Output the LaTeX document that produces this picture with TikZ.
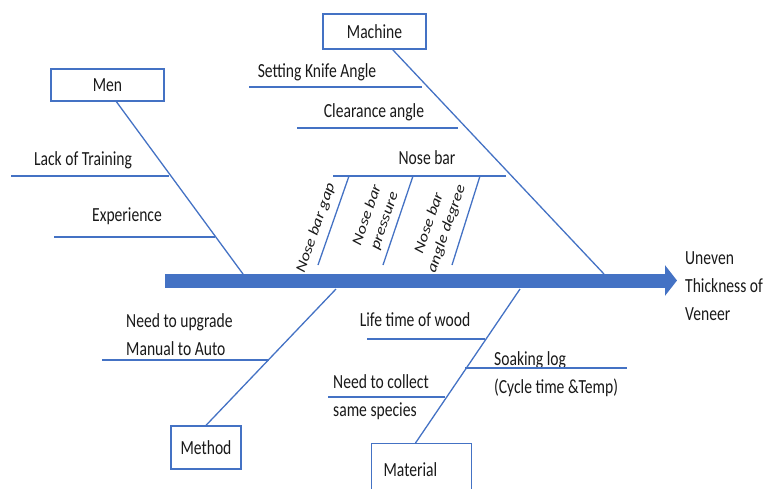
\documentclass[tikz,border=0pt]{standalone}
\usepackage{fontspec}
\setmainfont{Carlito}[FakeStretch=0.78]
\newfontfamily\rotfont{Carlito}[FakeStretch=1.2]
\usetikzlibrary{arrows.meta}
\definecolor{boneblue}{HTML}{4472C4}

\begin{document}
\begin{tikzpicture}[x=1pt, y=-1pt,
  bone/.style={draw=boneblue, line width=1.3pt},
  catbox/.style={draw=boneblue, line width=1.3pt, text=black!90, font=\fontsize{20}{24}\selectfont, inner sep=0pt},
  cause/.style={text=black!90, font=\fontsize{20}{28}\selectfont, inner sep=0pt, align=left},
  sub/.style={text=black!90, font=\rotfont\itshape\fontsize{14.5}{18.5}\selectfont, inner sep=0pt, align=center, rotate=71},
  spine/.style={draw=boneblue, line width=14pt, -{Triangle[length=12pt, width=30pt]}}]
\useasboundingbox (0,0) rectangle (765,488);
\clip (0,0) rectangle (765,488);

\node[catbox, minimum width=113pt, minimum height=32pt] (men) at (107.5,85) {Men};
\node[catbox, minimum width=103pt, minimum height=35pt] (machine) at (374.5,31.5) {Machine};
\node[catbox, minimum width=70pt, minimum height=43pt] (method) at (206,447.5) {Method};
\node[catbox, anchor=north west, minimum height=52pt, text width=76pt, inner xsep=12pt, align=left] (material) at (371,443) {Material};
\node[cause, anchor=west] (effect) at (685,286.5) {Uneven\\Thickness of\\Veneer};

\coordinate (tail) at (165,280.5);
\draw[spine, shorten >=8pt] (tail) -- (tail -| effect.west);

\coordinate (menend) at (243,274);
\coordinate (machend) at (604,274);
\coordinate (methend) at (336,289);
\coordinate (matend) at (520,289);
\draw[bone] (men.-62) -- (menend);
\draw[bone] (machine.-45) -- (machend);
\draw[bone] (method.north) -- (methend);
\draw[bone] (material.103) -- (matend);

\node[cause] (lack) at (83,160) {Lack of Training};
\node[cause] (exp) at (127,216) {Experience};
\coordinate (lack0) at (11,176);
\coordinate (lack1) at (169,176);
\coordinate (exp0) at (54,237);
\coordinate (exp1) at (215,237);
\draw[bone] (lack0) -- (lack1);
\draw[bone] (exp0) -- (exp1);

\node[cause] (knife) at (317,72) {Setting Knife Angle};
\node[cause] (clear) at (374,112) {Clearance angle};
\node[cause] (nose) at (427,158) {Nose bar};
\coordinate (knife0) at (249,87);
\coordinate (knife1) at (422,87);
\coordinate (clear0) at (297,128);
\coordinate (clear1) at (458,128);
\coordinate (nose0) at (333,176);
\coordinate (nose1) at (506,176);
\draw[bone] (knife0) -- (knife1);
\draw[bone] (clear0) -- (clear1);
\draw[bone] (nose0) -- (nose1);

\coordinate (gap0) at (349,176);
\coordinate (gap1) at (318,265);
\coordinate (press0) at (413,176);
\coordinate (press1) at (383,265);
\coordinate (deg0) at (480,176);
\coordinate (deg1) at (452,265);
\draw[bone] (gap0) -- (gap1);
\draw[bone] (press0) -- (press1);
\draw[bone] (deg0) -- (deg1);
\node[sub] (gap) at (316,228) {Nose bar gap};
\node[sub] (press) at (376,218) {Nose bar\\pressure};
\node[sub] (deg) at (438,226) {Nose bar\\angle degree};

\node[cause, anchor=west] (upgrade) at (126,334.5) {Need to upgrade\\Manual to Auto};
\coordinate (up0) at (102,360);
\coordinate (up1) at (269,360);
\draw[bone] (up0) -- (up1);

\node[cause] (life) at (415,320) {Life time of wood};
\node[cause, anchor=west] (soak) at (494,374) {Soaking log\\(Cycle time \&Temp)};
\node[cause, anchor=west] (collect) at (333,397) {Need to collect\\same species};
\coordinate (life0) at (367,339);
\coordinate (life1) at (485,339);
\coordinate (soak0) at (465,368);
\coordinate (soak1) at (627,368);
\coordinate (coll0) at (328,397);
\coordinate (coll1) at (445,397);
\draw[bone] (life0) -- (life1);
\draw[bone] (soak0) -- (soak1);
\draw[bone] (coll0) -- (coll1);
\end{tikzpicture}
\end{document}
